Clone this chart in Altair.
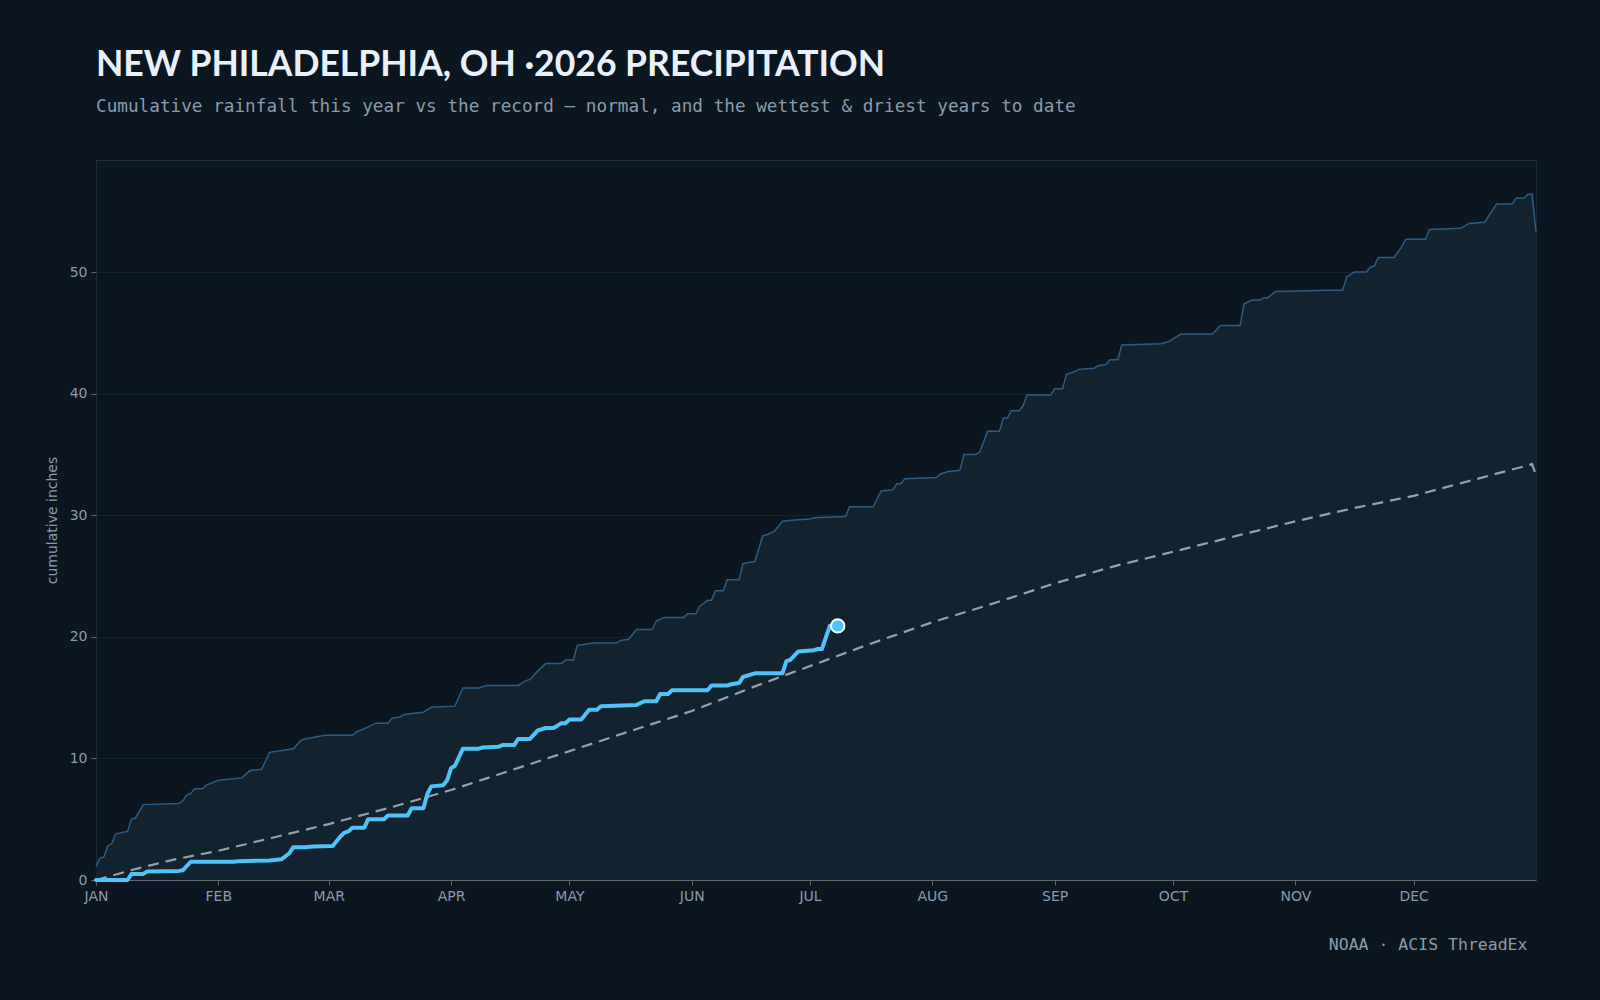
import altair as alt
import pandas as pd

# Month starts as day-of-year offsets (x axis ticks)
MONTH_STARTS = [0, 31, 59, 90, 120, 151, 181, 212, 243, 273, 304, 334]
MONTH_LABELS = ["JAN", "FEB", "MAR", "APR", "MAY", "JUN",
                "JUL", "AUG", "SEP", "OCT", "NOV", "DEC"]
Y_TICKS = [0, 10, 20, 30, 40, 50]

# Wettest year to date: cumulative inches by day of year
wet_days = [0, 1, 2, 3, 4, 5, 8, 9, 10, 12, 21, 22, 23, 24, 25, 27, 28, 31, 37, 39,
            42, 44, 50, 52, 53, 58, 65, 66, 67, 69, 71, 74, 75, 77, 78, 80, 83, 85, 91, 93,
            97, 99, 107, 109, 110, 112, 114, 118, 119, 121, 122, 124, 126, 132, 133, 135, 137, 141, 142, 144,
            149, 150, 152, 153, 155, 156, 157, 159, 160, 163, 164, 165, 167, 169, 170, 172, 174, 177, 181, 182,
            190, 191, 197, 199, 202, 203, 204, 205, 213, 214, 216, 219, 220, 223, 224, 226, 229, 230, 231, 232,
            234, 235, 236, 242, 243, 245, 246, 248, 249, 253, 254, 256, 257, 259, 260, 270, 272, 273, 275, 283,
            285, 290, 291, 293, 295, 296, 297, 299, 312, 316, 317, 319, 322, 323, 324, 325, 329, 331, 332, 337,
            338, 346, 348, 352, 355, 359, 360, 362, 363, 364, 365]
wet_vals = [1.1, 1.8, 1.9, 2.8, 3.0, 3.8, 4.0, 5.0, 5.1, 6.2, 6.3, 6.5, 7.0, 7.1, 7.5, 7.5, 7.8, 8.2, 8.4, 9.0,
            9.1, 10.5, 10.8, 11.5, 11.6, 11.9, 11.9, 12.2, 12.3, 12.6, 12.9, 12.9, 13.3, 13.4, 13.6, 13.7, 13.8, 14.2, 14.3, 15.8,
            15.8, 16.0, 16.0, 16.4, 16.5, 17.2, 17.8, 17.8, 18.1, 18.1, 19.3, 19.4, 19.5, 19.5, 19.7, 19.8, 20.6, 20.6, 21.3, 21.6,
            21.6, 21.9, 21.9, 22.5, 23.0, 23.0, 23.8, 23.8, 24.7, 24.7, 26.0, 26.1, 26.2, 28.3, 28.4, 28.7, 29.5, 29.6, 29.7, 29.8,
            29.9, 30.7, 30.7, 32.0, 32.1, 32.6, 32.6, 33.0, 33.1, 33.4, 33.6, 33.7, 35.0, 35.0, 35.2, 36.9, 36.9, 38.0, 38.0, 38.6,
            38.6, 39.0, 39.9, 39.9, 40.4, 40.4, 41.6, 41.8, 42.0, 42.1, 42.3, 42.4, 42.8, 42.8, 44.0, 44.1, 44.3, 44.5, 44.9, 44.9,
            45.6, 45.6, 47.4, 47.7, 47.7, 47.9, 47.9, 48.4, 48.5, 48.5, 49.6, 50.0, 50.0, 50.4, 50.5, 51.2, 51.2, 52.1, 52.7, 52.7,
            53.5, 53.6, 54.0, 54.1, 55.6, 55.6, 56.1, 56.1, 56.4, 56.4, 53.3]

# Normal (30-year average) cumulative precipitation
normal_days = [0, 10, 20, 31, 45, 59, 75, 90, 105, 120, 135, 151, 166, 181, 196, 212, 228, 243,
               258, 273, 289, 304, 319, 334, 349, 364, 365]
normal_vals = [0.0, 0.9, 1.7, 2.4, 3.5, 4.6, 6.0, 7.4, 9.0, 10.6, 12.2, 13.9, 15.8, 17.6, 19.4, 21.2, 22.8, 24.4,
               25.8, 27.0, 28.3, 29.5, 30.6, 31.6, 32.9, 34.2, 33.3]

# This year's running total
year_days = [0, 8, 9, 12, 13, 21, 22, 24, 35, 36, 44, 47, 49, 50, 53, 55, 60, 62, 63, 64,
             65, 68, 69, 73, 74, 79, 80, 83, 84, 85, 88, 89, 90, 91, 93, 97, 98, 102, 103, 106,
             107, 110, 112, 113, 114, 116, 118, 119, 120, 123, 125, 127, 128, 137, 139, 142, 143, 145, 146, 155,
             156, 160, 161, 163, 164, 165, 167, 174, 175, 176, 178, 182, 183, 184, 186]
year_vals = [0.0, 0.0, 0.5, 0.5, 0.7, 0.75, 0.8, 1.5, 1.5, 1.55, 1.6, 1.7, 2.2, 2.7, 2.7, 2.75, 2.8, 3.6, 3.9, 4.0,
             4.3, 4.3, 5.0, 5.0, 5.3, 5.3, 5.9, 5.9, 7.1, 7.7, 7.8, 8.2, 9.2, 9.4, 10.8, 10.8, 10.9, 10.95, 11.1, 11.1,
             11.6, 11.6, 12.3, 12.4, 12.5, 12.5, 12.9, 12.9, 13.2, 13.2, 14.0, 14.0, 14.3, 14.4, 14.7, 14.7, 15.3, 15.3, 15.6, 15.6,
             16.0, 16.0, 16.1, 16.2, 16.7, 16.8, 17.0, 17.0, 18.0, 18.1, 18.8, 18.9, 19.0, 19.0, 20.9]

# Latest observation marker
today_day = [188]
today_val = [20.9]

wet = pd.DataFrame({"day": wet_days, "inches": wet_vals})
normal = pd.DataFrame({"day": normal_days, "inches": normal_vals})
year = pd.DataFrame({"day": year_days, "inches": year_vals})
today = pd.DataFrame({"day": today_day, "inches": today_val})

BG = "#0c1620"
LABEL = "#8b9bad"
y_max = max(wet_vals) * 1.05

label_expr = "[{}][indexof([{}], datum.value)]".format(
    ",".join("'%s'" % m for m in MONTH_LABELS),
    ",".join(str(d) for d in MONTH_STARTS),
)

x_enc = alt.X(
    "day:Q",
    scale=alt.Scale(domain=[0, 365], nice=False, zero=False),
    axis=alt.Axis(
        values=MONTH_STARTS,
        labelExpr=label_expr,
        labelFlush=False,
        grid=False,
        domain=True,
        domainColor="#5f666a",
        domainWidth=1,
        tickColor="#5f666a",
        tickSize=5,
        labelFont="DejaVu Sans",
        labelFontSize=14,
        labelColor=LABEL,
        labelPadding=4,
        title="NOAA · ACIS ThreadEx",
        titleFont="DejaVu Sans Mono",
        titleFontSize=16.5,
        titleFontWeight="normal",
        titleColor=LABEL,
        titleAlign="right",
        titleAnchor="end",
        titleBaseline="alphabetic",
        titleX=1431,
        titleY=69,
    ),
)

y_enc = alt.Y(
    "inches:Q",
    scale=alt.Scale(domain=[0, y_max], nice=False),
    axis=alt.Axis(
        values=Y_TICKS,
        grid=True,
        gridColor="#132533",
        gridWidth=1,
        domain=False,
        tickColor="#5f666a",
        tickSize=5,
        labelFont="DejaVu Sans",
        labelFontSize=14,
        labelColor=LABEL,
        labelPadding=4,
        title="cumulative inches",
        titleFont="DejaVu Sans",
        titleFontSize=14,
        titleFontWeight="normal",
        titleColor=LABEL,
        titleAngle=-90,
        titleAlign="center",
        titleBaseline="middle",
        titleX=-44,
        titleY=360,
    ),
)

band = alt.Chart(wet).mark_area(color="#12222f", opacity=1).encode(x=x_enc, y=y_enc)
wet_line = alt.Chart(wet).mark_line(color="#2a5c86", strokeWidth=1.5).encode(x="day:Q", y="inches:Q")
normal_line = alt.Chart(normal).mark_line(
    color="#95a2ae", strokeWidth=2.2, strokeDash=[11, 7]
).encode(x="day:Q", y="inches:Q")
year_line = alt.Chart(year).mark_line(
    color="#4fc3f7", strokeWidth=4, strokeJoin="round", strokeCap="round"
).encode(x="day:Q", y="inches:Q")
marker = alt.Chart(today).mark_circle(
    color="#4fc3f7", size=180, opacity=1, stroke="#ffffff", strokeWidth=2
).encode(x="day:Q", y="inches:Q")

chart = (
    alt.layer(band, wet_line, normal_line, year_line, marker)
    .properties(
        width=1440,
        height=720,
        autosize=alt.AutoSizeParams(type="none"),
        padding={"left": 96, "top": 160, "right": 64, "bottom": 120},
        background=BG,
        title=alt.Title(
            "NEW PHILADELPHIA, OH ·2026 PRECIPITATION",
            subtitle="Cumulative rainfall this year vs the record — normal, and the wettest & driest years to date",
            anchor="start",
            frame="group",
            font="Lato",
            fontSize=35.5,
            fontWeight="bold",
            color="#e8f1fa",
            subtitleFont="DejaVu Sans Mono",
            subtitleFontSize=17.7,
            subtitleColor=LABEL,
            subtitlePadding=15,
            offset=44,
        ),
    )
    .configure_view(stroke="#1a2e3e", strokeWidth=1)
)

chart.save("out.html", embed_options={"renderer": "svg", "actions": False})
